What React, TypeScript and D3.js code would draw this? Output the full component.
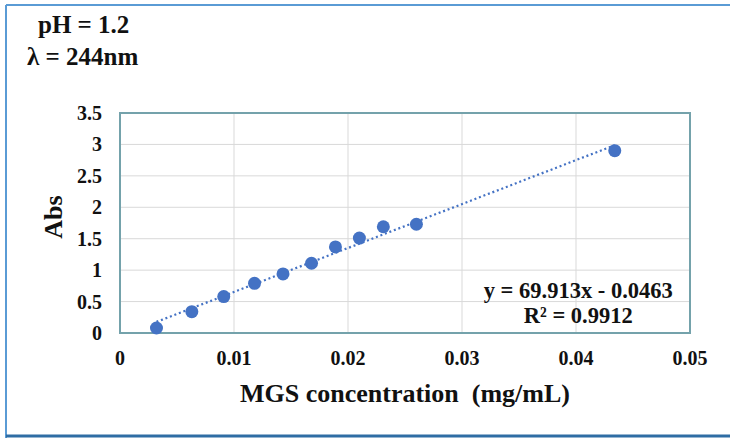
import * as d3 from "d3";

// calibration points
const concentration = [0.0032, 0.0063, 0.0091, 0.0118, 0.0143, 0.0168, 0.0189, 0.021, 0.0231, 0.026, 0.0434];
const absorbance = [0.08, 0.34, 0.58, 0.79, 0.94, 1.11, 1.37, 1.51, 1.69, 1.73, 2.9];

const xTicks = [0, 0.01, 0.02, 0.03, 0.04, 0.05];
const yTicks = [0, 0.5, 1, 1.5, 2, 2.5, 3, 3.5];

// trendline from the printed equation
const slope = 69.913;
const intercept = -0.0463;
const equationLabel = "y = 69.913x - 0.0463";
const r2Label = "R² = 0.9912";

const W = 730;
const H = 438;
const margin = { top: 113, right: 40, bottom: 105, left: 120 };
const font = "'Liberation Serif', 'Times New Roman', serif";
const blue = "#4472c4";

export default function App() {
  const innerW = W - margin.left - margin.right;
  const innerH = H - margin.top - margin.bottom;

  const x = d3.scaleLinear().domain([0, 0.05]).range([0, innerW]);
  const y = d3.scaleLinear().domain([0, 3.5]).range([innerH, 0]);

  const points = concentration.map((c, i) => ({ c, a: absorbance[i] }));
  const [x0, x1] = d3.extent(concentration) as [number, number];
  const trend = d3.line<number>()
    .x((d) => x(d))
    .y((d) => y(slope * d + intercept))([x0, x1]);

  return (
    <>
      <style>{"body{margin:0}"}</style>
      <svg width={W} height={H} style={{ display: "block", background: "#fff" }} fontFamily={font}>
        {/* outer frame */}
        <line x1={6} y1={5} x2={W} y2={5} stroke="#5a9bd5" strokeWidth={2} />
        <line x1={6} y1={5} x2={6} y2={H} stroke="#5a9bd5" strokeWidth={2} />
        <line x1={6} y1={H - 2} x2={W} y2={H - 2} stroke="#2e6da4" strokeWidth={3} />

        {/* header */}
        <text x={38} y={33} fontWeight="bold" fontSize={25} fill="#111">
          pH = 1.2
        </text>
        <text x={27} y={65} fontWeight="bold" fontSize={25} fill="#111">
          λ = 244nm
        </text>

        <g transform={`translate(${margin.left},${margin.top})`}>
          {/* gridlines */}
          {yTicks.map((t) => (
            <line key={"gy" + t} x1={0} x2={innerW} y1={y(t)} y2={y(t)} stroke="#d9d9d9" strokeWidth={1} />
          ))}
          {xTicks.map((t) => (
            <line key={"gx" + t} x1={x(t)} x2={x(t)} y1={0} y2={innerH} stroke="#d9d9d9" strokeWidth={1} />
          ))}

          {/* plot frame */}
          <rect x={0} y={0} width={innerW} height={innerH} fill="none" stroke="#74a2ab" strokeWidth={2} />

          {/* trendline */}
          <path d={trend ?? ""} fill="none" stroke={blue} strokeWidth={2.2} strokeDasharray="2 2.8" />

          {/* points */}
          {points.map((p, i) => (
            <circle key={i} cx={x(p.c)} cy={y(p.a)} r={6.5} fill={blue} />
          ))}

          {/* y tick labels */}
          {yTicks.map((t) => (
            <text
              key={"ly" + t}
              x={-18}
              y={y(t)}
              textAnchor="end"
              dominantBaseline="central"
              fontWeight="bold"
              fontSize={20}
              fill="#111"
            >
              {t}
            </text>
          ))}

          {/* x tick labels */}
          {xTicks.map((t) => (
            <text
              key={"lx" + t}
              x={x(t)}
              y={innerH + 32}
              textAnchor="middle"
              fontWeight="bold"
              fontSize={20}
              fill="#111"
            >
              {t}
            </text>
          ))}

          {/* equation */}
          <text x={x(0.0402)} y={298 - margin.top} textAnchor="middle" fontWeight="bold" fontSize={22.5} fill="#111">
            {equationLabel}
          </text>
          <text x={x(0.0402)} y={323 - margin.top} textAnchor="middle" fontWeight="bold" fontSize={22.5} fill="#111">
            {r2Label}
          </text>

          {/* axis titles */}
          <text
            x={innerW / 2}
            y={innerH + 69}
            textAnchor="middle"
            fontWeight="bold"
            fontSize={26}
            fill="#111"
            style={{ whiteSpace: "pre" }}
          >
            {"MGS concentration  (mg/mL)"}
          </text>
          <text
            transform={`translate(${-58},${innerH / 2 - 6}) rotate(-90)`}
            textAnchor="middle"
            fontWeight="bold"
            fontSize={26}
            fill="#111"
          >
            Abs
          </text>
        </g>
      </svg>
    </>
  );
}
